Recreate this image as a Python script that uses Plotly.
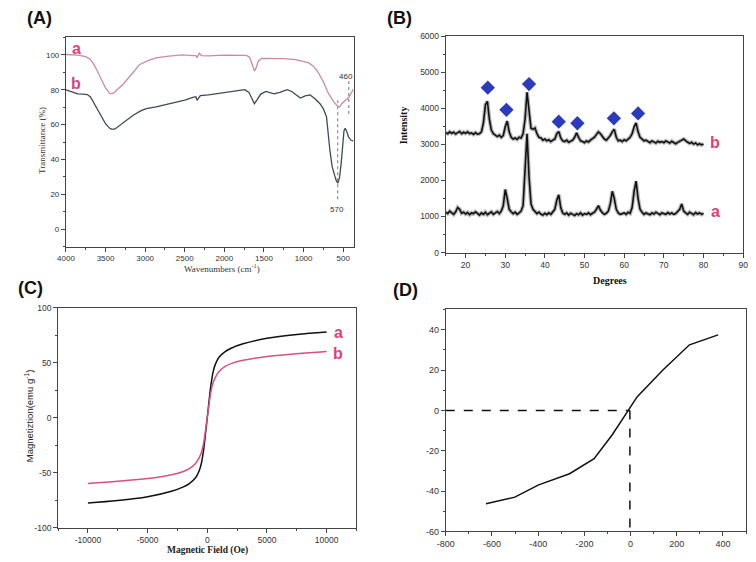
import plotly.graph_objects as go

W, H = 756, 562

# ---------------- (A) FTIR ----------------
ftir_a_x = [4000, 3850, 3750, 3690, 3640, 3566, 3500, 3442, 3400, 3340, 3275, 3150, 3069, 2950, 2862, 2700,
            2531, 2400, 2360, 2345, 2330, 2316, 2290, 2200, 2000, 1800, 1720, 1680, 1650, 1621, 1600, 1570,
            1530, 1400, 1250, 1100, 1000, 940, 876, 830, 793, 750, 700, 669, 620, 570, 545, 520, 490, 460,
            430, 400, 370]
ftir_a_y = [100.2, 99.8, 99, 97.4, 94, 87, 81, 77.6, 78, 80.5, 83.3, 90, 94.5, 97, 98.3, 99.3, 100, 99.6,
            99.5, 98.5, 99.5, 101, 99.6, 99.4, 99.8, 100, 99.7, 98.5, 95, 90.8, 92.5, 96.5, 98, 98, 97.8,
            97.3, 96.4, 95.5, 93.5, 91, 88, 84.5, 79, 76.7, 73, 70.5, 70.1, 72, 73, 74, 75.5, 78, 80.5]
ftir_b_x = [4000, 3900, 3850, 3780, 3730, 3690, 3620, 3566, 3500, 3450, 3420, 3380, 3317, 3240, 3151, 3050,
            2986, 2862, 2655, 2500, 2387, 2360, 2345, 2320, 2304, 2200, 2117, 2000, 1850, 1742, 1690, 1650,
            1621, 1590, 1540, 1476, 1420, 1373, 1300, 1207, 1150, 1100, 1041, 980, 917, 860, 793, 752, 711,
            669, 640, 607, 585, 566, 545, 525, 504, 490, 475, 455, 434, 400, 370]
ftir_b_y = [79.9, 78.5, 77.6, 77.5, 77.2, 75.8, 70, 65.4, 60.5, 58, 57.3, 57.5, 59.8, 62.5, 65.4, 68, 69.2,
            70.1, 72.5, 74, 75.8, 76, 73.9, 75.5, 76.6, 77, 77.6, 78.3, 79.3, 80, 78.5, 74.5, 72, 74, 77.5,
            79, 78, 77.6, 78.5, 80, 79, 77, 75.2, 76.5, 77, 75, 72, 69.2, 64.5, 45.7, 36, 30.7, 27.5, 26.5,
            30, 38, 53, 56.5, 57.9, 56, 53, 51, 50.6]
a_xticks = [4000, 3500, 3000, 2500, 2000, 1500, 1000, 500]
a_yticks = [0, 20, 40, 60, 80, 100]

# ---------------- (B) XRD ----------------
xrd_x = [15 + 0.5 * i for i in range(131)]
xrd_a = [1120, 1080, 1150, 1100, 1060, 1130, 1250, 1200, 1090, 1120, 1070, 1110, 1050, 1100, 1080, 1130,
         1070, 1040, 1100, 1060, 1120, 1050, 1090, 1130, 1060, 1100, 1140, 1080, 1150, 1300, 1750, 1500,
         1200, 1130, 1080, 1120, 1060, 1100, 1150, 1300, 2200, 3300, 2100, 1350, 1200, 1150, 1080, 1120,
         1060, 1040, 1090, 1050, 1100, 1060, 1120, 1200, 1450, 1600, 1250, 1100, 1060, 1100, 1040, 1090,
         1060, 1030, 1080, 1050, 1100, 1040, 1080, 1060, 1100, 1050, 1090, 1120, 1200, 1300, 1180, 1100,
         1060, 1090, 1150, 1350, 1700, 1500, 1200, 1100, 1060, 1080, 1100, 1060, 1120, 1090, 1250, 1700,
         1980, 1500, 1200, 1120, 1060, 1100, 1080, 1050, 1100, 1070, 1120, 1080, 1050, 1100, 1090, 1060,
         1110, 1070, 1100, 1060, 1080, 1140, 1200, 1350, 1150, 1100, 1060, 1120, 1080, 1050, 1110, 1070,
         1100, 1060, 1090]
xrd_b = [3330, 3300, 3350, 3310, 3340, 3290, 3330, 3360, 3300, 3340, 3310, 3350, 3300, 3320, 3280, 3330,
         3290, 3300, 3350, 3600, 4100, 4200, 3700, 3400, 3300, 3250, 3220, 3260, 3200, 3250, 3500, 3650,
         3350, 3200, 3150, 3180, 3140, 3200, 3180, 3300, 3700, 4450, 3900, 3450, 3420, 3460, 3300, 3200,
         3180, 3120, 3150, 3100, 3130, 3080, 3120, 3150, 3300, 3360, 3180, 3100, 3080, 3120, 3060, 3100,
         3120, 3200, 3320, 3200, 3100, 3080, 3050, 3100, 3070, 3120, 3150, 3200, 3280, 3350, 3300, 3220,
         3150, 3120, 3180, 3250, 3350, 3420, 3200, 3100, 3120, 3080, 3130, 3100, 3150, 3200, 3300, 3500,
         3600, 3350, 3200, 3150, 3100, 3120, 3080, 3050, 3100, 3070, 3040, 3090, 3060, 3080, 3050, 3100,
         3070, 3040, 3090, 3050, 3020, 3060, 3080, 3120, 3150, 3100, 3060, 3030, 3060, 3010, 3040, 2990,
         3020, 2990, 3010]
peak_x = [25.6, 30.3, 36.0, 43.5, 48.2, 57.4, 63.5]
peak_y = [4577, 3961, 4677, 3634, 3589, 3725, 3861]
b_xticks = [20, 30, 40, 50, 60, 70, 80, 90]
b_yticks = [0, 1000, 2000, 3000, 4000, 5000, 6000]

# ---------------- (C) Magnetization ----------------
field = [-10000, -7500, -5000, -3000, -2000, -1500, -1000, -700, -500, -300, -150, 0,
         150, 300, 500, 700, 1000, 1500, 2000, 3000, 5000, 7500, 10000]
mag_a = [-77.7, -75.5, -72, -67, -63, -60, -55, -49, -42, -29, -15, 0,
         15, 29, 42, 49, 55, 60, 63, 67, 72, 75.5, 77.7]
mag_b = [-60, -58, -55.5, -52, -49, -46.5, -42, -37, -32, -23, -12, 0,
         12, 23, 32, 37, 42, 46.5, 49, 52, 55.5, 58, 60]
c_xticks = [-10000, -5000, 0, 5000, 10000]
c_yticks = [-100, -50, 0, 50, 100]

# ---------------- (D) ----------------
d_x = [-626, -501, -398, -264, -158, -80, -10, 28, 140, 255, 379]
d_y = [-46.3, -43, -36.9, -31.4, -23.9, -12.2, 0, 6.7, 20, 32.5, 37.4]
d_cross_x = -3
d_xticks = [-800, -600, -400, -200, 0, 200, 400]
d_yticks = [-60, -40, -20, 0, 20, 40]


def lab(v):
    return str(v)  # plain hyphen-minus labels


def px(x):
    return x / W


def py(y):
    return 1 - y / H


PINK = '#e0407a'
SERIF = 'Liberation Serif, Times New Roman'

fig = go.Figure()

# A traces
fig.add_trace(go.Scatter(x=ftir_a_x, y=ftir_a_y, mode='lines', line=dict(color='#c98aa8', width=1.3),
                         xaxis='x', yaxis='y', showlegend=False))
fig.add_trace(go.Scatter(x=ftir_b_x, y=ftir_b_y, mode='lines', line=dict(color='#3d4a50', width=1.3),
                         xaxis='x', yaxis='y', showlegend=False))
fig.add_trace(go.Scatter(x=[570, 570], y=[74, 15.5], mode='lines',
                         line=dict(color='#8090a0', width=1.2, dash='dot'), xaxis='x', yaxis='y', showlegend=False))
fig.add_trace(go.Scatter(x=[430, 430], y=[85, 65], mode='lines',
                         line=dict(color='#8090a0', width=1.2, dash='dot'), xaxis='x', yaxis='y', showlegend=False))

# B traces
for ys in (xrd_a, xrd_b):
    fig.add_trace(go.Scatter(x=xrd_x, y=ys, mode='lines', line=dict(color='#b8b8b8', width=4),
                             xaxis='x2', yaxis='y2', showlegend=False))
    fig.add_trace(go.Scatter(x=xrd_x, y=ys, mode='lines', line=dict(color='#111', width=1.6),
                             xaxis='x2', yaxis='y2', showlegend=False))
fig.add_trace(go.Scatter(x=peak_x, y=peak_y, mode='markers',
                         marker=dict(symbol='diamond', size=11, color='#2b3bbf'),
                         xaxis='x2', yaxis='y2', showlegend=False))

# C traces
fig.add_trace(go.Scatter(x=field, y=mag_a, mode='lines', line=dict(color='#111', width=1.5, shape='spline'),
                         xaxis='x3', yaxis='y3', showlegend=False))
fig.add_trace(go.Scatter(x=field, y=mag_b, mode='lines', line=dict(color='#d9507f', width=1.5, shape='spline'),
                         xaxis='x3', yaxis='y3', showlegend=False))

# D traces
fig.add_trace(go.Scatter(x=d_x, y=d_y, mode='lines', line=dict(color='#111', width=1.5),
                         xaxis='x4', yaxis='y4', showlegend=False))
fig.add_trace(go.Scatter(x=[-800, d_cross_x], y=[0, 0], mode='lines',
                         line=dict(color='#111', width=1.5, dash='dash'), xaxis='x4', yaxis='y4', showlegend=False))
fig.add_trace(go.Scatter(x=[d_cross_x, d_cross_x], y=[0, -60], mode='lines',
                         line=dict(color='#111', width=1.5, dash='dash'), xaxis='x4', yaxis='y4', showlegend=False))


def ax(domain, rng, ticks, minor, anchor, size=8):
    return dict(domain=domain, range=rng, autorange=False, tickmode='array', tickvals=ticks,
                ticktext=[lab(t) for t in ticks],
                showline=True, mirror=True, linecolor='#444', linewidth=1, ticks='outside', ticklen=4,
                tickcolor='#444', showgrid=False, zeroline=False, anchor=anchor,
                tickfont=dict(family='Liberation Sans, Arial', size=size, color='#333'),
                minor=dict(tickmode='linear', tick0=0, dtick=minor, ticklen=2, tickcolor='#444',
                           ticks='outside', showgrid=False))


fig.update_layout(
    width=W, height=H, margin=dict(l=0, r=0, t=0, b=0),
    paper_bgcolor='white', plot_bgcolor='white', hovermode=False,
    xaxis=ax([px(58), px(351)], [4000, 370], a_xticks, 250, 'y', size=8),
    yaxis=ax([py(246), py(33)], [-10, 110], a_yticks, 10, 'x', size=8),
    xaxis2=ax([px(445), px(748)], [15, 90], b_xticks, 5, 'y2', size=8.5),
    yaxis2=ax([py(252), py(32)], [0, 6000], b_yticks, 500, 'x2', size=8.5),
    xaxis3=ax([px(50), px(354)], [-12500, 12500], c_xticks, 2500, 'y3', size=8.5),
    yaxis3=ax([py(532), py(308)], [-100, 100], c_yticks, 25, 'x3', size=8.5),
    xaxis4=ax([px(445), px(751)], [-800, 500], d_xticks, 100, 'y4', size=9),
    yaxis4=ax([py(536), py(310)], [-60, 50], d_yticks, 10, 'x4', size=9),
)

ann = []


def pa(text, x, y, size, family='Liberation Sans, Arial', color='#111', angle=0, bold=False):
    t = f'<b>{text}</b>' if bold else text
    ann.append(dict(text=t, x=px(x), y=py(y), xref='paper', yref='paper', showarrow=False,
                    font=dict(family=family, size=size, color=color), textangle=angle,
                    xanchor='center', yanchor='middle'))


# panel labels
pa('(A)', 31, 13, 18, bold=True)
pa('(B)', 398, 13, 18, bold=True)
pa('(C)', 22, 288, 18, bold=True)
pa('(D)', 404, 290, 18, bold=True)
# axis titles
pa('Wavenumbers (cm<sup>-1</sup>)', 217, 268, 9, family=SERIF, color='#333')
pa('Transmittance (%)', 33, 138, 9, family=SERIF, color='#333', angle=-90)
pa('Intensity', 402, 123, 10, family=SERIF, angle=-90, bold=True)
pa('Degrees', 612, 280, 10, family=SERIF, bold=True)
pa('Magnetiztion(emu g<sup>-1</sup>)', 20, 418, 9.5, angle=-90, color='#222')
pa('Magnetic Field (Oe)', 202, 555, 9.5, family=SERIF, bold=True, color='#222')


def da(text, x, y, xr, yr, size, color=PINK, bold=True, family='Liberation Sans, Arial'):
    t = f'<b>{text}</b>' if bold else text
    ann.append(dict(text=t, x=x, y=y, xref=xr, yref=yr, showarrow=False,
                    font=dict(family=family, size=size, color=color), xanchor='center', yanchor='middle'))


da('a', 3867, 103.5, 'x', 'y', 16)
da('b', 3867, 83.3, 'x', 'y', 16)
da('570', 574, 11.5, 'x', 'y', 8, color='#333', bold=False)
da('460', 470, 87.4, 'x', 'y', 8, color='#333', bold=False)
da('a', 83, 1133, 'x2', 'y2', 16)
da('b', 83, 3054, 'x2', 'y2', 16)
da('a', 10955, 77.7, 'x3', 'y3', 16)
da('b', 10955, 58.3, 'x3', 'y3', 16)

fig.update_layout(annotations=ann)
fig.write_html('out.html', config={'displayModeBar': False, 'staticPlot': True},
               post_script="document.body.style.margin='0';document.body.style.overflow='hidden';")
